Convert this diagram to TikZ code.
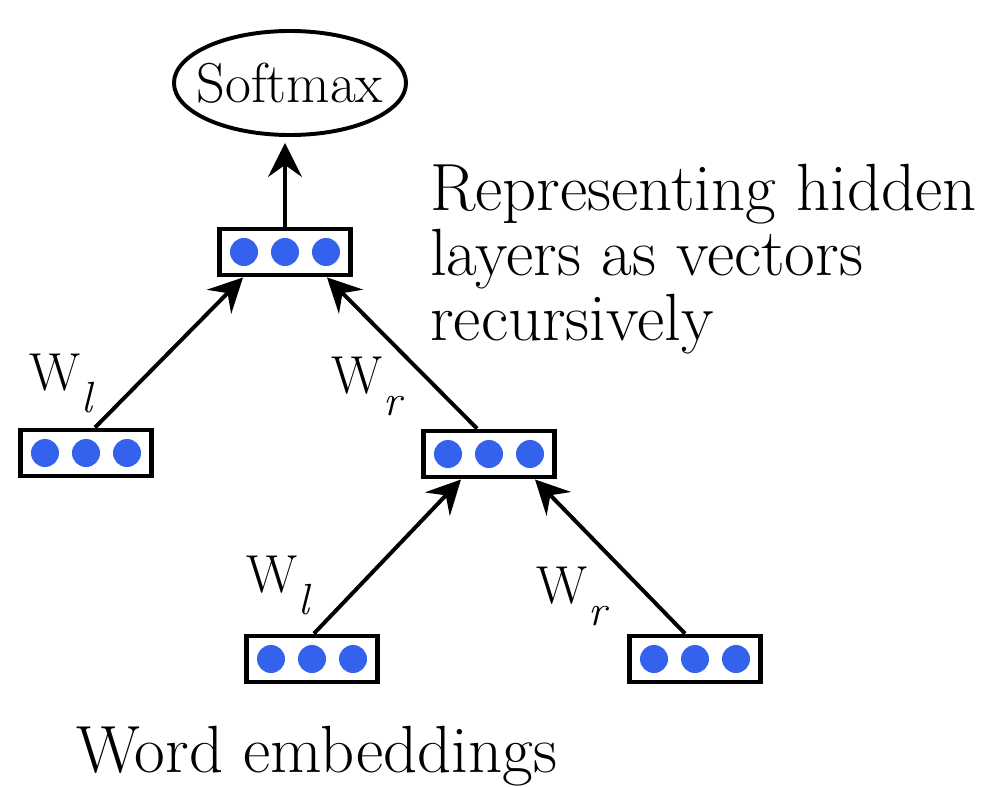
\documentclass[tikz,border=0pt]{standalone}
\usepackage{fontspec}
\usetikzlibrary{positioning,arrows.meta,calc,shapes.geometric}
\definecolor{dotblue}{HTML}{3462EC}
\tikzset{vecbox/.style={draw=black,fill=white,line width=3.5pt,minimum width=3.28cm,minimum height=1.15cm,inner sep=0pt},
         blob/.style={fill=dotblue},
         smax/.style={ellipse,draw=black,line width=2.8pt,minimum width=5.8cm,minimum height=2.6cm,inner xsep=-0.3cm,inner ysep=0pt,font=\fontsize{40}{40}\selectfont},
         arr/.style={-{Stealth[length=8.5mm,width=8.5mm,inset=3mm]},line width=2.8pt},
         wlab/.style={anchor=base west,inner sep=0pt,font=\fontsize{38}{38}\selectfont},
         txt/.style={inner sep=0pt,font=\fontsize{47.5}{46}\selectfont}}
\newcommand{\wsub}[1]{W\hspace{1pt}\raisebox{-16pt}{\fontsize{31}{31}\selectfont\itshape #1}}

\begin{document}
\begin{tikzpicture}[x=0.025cm,y=-0.025cm]
 \useasboundingbox (0,0) rectangle (991,787);
 \node[smax] (sm) at (290,83) {Softmax};
 \node[vecbox] (vt) at (285,252) {};
 \node[vecbox] (vl) at (86,453) {};
 \node[vecbox] (vm) at (489,454) {};
 \node[vecbox] (vb1) at (312,659) {};
 \node[vecbox] (vb2) at (695,659) {};
 \foreach \b in {vt,vl,vm,vb1,vb2}
  \foreach \k in {-1,0,1}
   \fill[blob] ($(\b)+(\k*41,0)$) circle (0.35cm);
 \draw[arr,shorten >=1.5mm] (vt.north) -- (vt.north |- sm.south);
 \draw[arr] ($(vl.north)+(9,0)$) -- ($(vt.south)+(-42,0)$);
 \draw[arr] ($(vm.north)+(-12,0)$) -- ($(vt.south)+(42,0)$);
 \draw[arr] ($(vb1.north)+(2,0)$) -- ($(vm.south)+(-28,0)$);
 \draw[arr] ($(vb2.north)+(-10,0)$) -- ($(vm.south)+(46,0)$);
 % weight labels
 \node[wlab] (w1) at (29,390) {\wsub{l}};
 \node[wlab] (w2) at (331,393) {\wsub{r}};
 \node[wlab] (w3) at (246,592) {\wsub{l}};
 \node[wlab] (w4) at (536,603) {\wsub{r}};
 \node[txt,anchor=north west,align=left] (cap) at (430,164) {Representing hidden\\layers as vectors\\recursively};
 \node[txt,anchor=base west] (emb) at (76,772) {Word embeddings};
\end{tikzpicture}
\end{document}
